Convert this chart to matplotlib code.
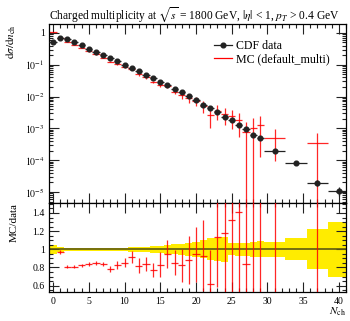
import numpy as np
import matplotlib
matplotlib.use('Agg')
import matplotlib.pyplot as plt
from matplotlib.lines import Line2D
from matplotlib.ticker import MultipleLocator, LogLocator, NullFormatter, FixedLocator

plt.rcParams['font.family'] = ['Liberation Serif', 'DejaVu Serif']
plt.rcParams['mathtext.fontset'] = 'stix'

# bins (centres and edges)
n_ch = [0, 1, 2, 3, 4, 5, 6, 7, 8, 9, 10, 11, 12, 13, 14, 15, 16, 17, 18, 19,
        20, 21, 22, 23, 24, 25, 26, 27, 28, 29, 31, 34, 37, 40]
bin_lo = [-0.5, 0.5, 1.5, 2.5, 3.5, 4.5, 5.5, 6.5, 7.5, 8.5, 9.5, 10.5, 11.5, 12.5,
          13.5, 14.5, 15.5, 16.5, 17.5, 18.5, 19.5, 20.5, 21.5, 22.5, 23.5, 24.5,
          25.5, 26.5, 27.5, 28.5, 29.5, 32.5, 35.5, 38.5]
bin_hi = [0.5, 1.5, 2.5, 3.5, 4.5, 5.5, 6.5, 7.5, 8.5, 9.5, 10.5, 11.5, 12.5, 13.5,
          14.5, 15.5, 16.5, 17.5, 18.5, 19.5, 20.5, 21.5, 22.5, 23.5, 24.5, 25.5,
          26.5, 27.5, 28.5, 29.5, 32.5, 35.5, 38.5, 41.5]

# CDF data
cdf_y = [0.52, 0.70, 0.63, 0.52, 0.41, 0.31, 0.25, 0.20, 0.16, 0.127, 0.099, 0.078,
         0.062, 0.048, 0.037, 0.0285, 0.0224, 0.0168, 0.0135, 0.0102, 0.0078,
         0.0055, 0.00427, 0.0032, 0.00233, 0.0018, 0.00128, 0.00094, 0.00062,
         0.00048, 0.0002, 8.2e-5, 1.94e-5, 1.1e-5]
cdf_rel = [0.05, 0.03, 0.02, 0.02, 0.02, 0.02, 0.02, 0.02, 0.02, 0.02, 0.02, 0.025,
           0.03, 0.03, 0.035, 0.04, 0.05, 0.055, 0.06, 0.07, 0.08, 0.10, 0.12, 0.13,
           0.14, 0.065, 0.07, 0.075, 0.085, 0.09, 0.08, 0.12, 0.22, 0.30]

# MC (default_multi), nan = empty bin
mc_y = [1.07, 0.68, 0.51, 0.42, 0.338, 0.26, 0.212, 0.168, 0.125, 0.105, 0.0845,
        0.0712, 0.0508, 0.0403, 0.0285, 0.0237, 0.0213, 0.0143, 0.0111, 0.00898,
        0.00737, 0.00512, 0.00265, 0.00362, 0.00275, 0.00238, 0.0018, 0.00079,
        0.0010, 0.00128, 0.00051, np.nan, 0.00034, np.nan]
mc_rel = [0.02, 0.02, 0.02, 0.02, 0.02, 0.025, 0.03, 0.03, 0.04, 0.05, 0.06, 0.07,
          0.10, 0.09, 0.10, 0.17, 0.16, 0.16, 0.22, 0.30, 0.32, 0.42, 0.60, 0.48,
          0.55, 0.60, 0.70, 1.05, 1.05, 0.90, 0.82, np.nan, 1.05, np.nan]

x = np.array(n_ch, float)
lo = np.array(bin_lo)
hi = np.array(bin_hi)
xerr = [x - lo, hi - x]
d = np.array(cdf_y)
de = d * np.array(cdf_rel)
m = np.array(mc_y)
me = m * np.array(mc_rel)
ok = ~np.isnan(m)

fig = plt.figure(figsize=(3.5, 3.21), dpi=100)
ax = fig.add_axes([0.1414, 0.3676, 0.8472, 0.5576])
rax = fig.add_axes([0.1414, 0.0903, 0.8472, 0.2773], sharex=ax)

# main panel
me_lo = np.minimum(me, m * 0.9999)
ax.errorbar(x[ok], m[ok], xerr=[xerr[0][ok], xerr[1][ok]],
            yerr=[me_lo[ok], me[ok]], fmt='none', ecolor='red', elinewidth=0.9,
            alpha=0.85, capsize=0, zorder=2)
ax.errorbar(x, d, xerr=xerr, yerr=de, fmt='o', color='#222222', ms=3.4,
            elinewidth=0.9, capsize=0, zorder=3)
ax.set_yscale('log')
ax.set_ylim(4.5e-6, 1.9)
ax.set_xlim(-0.5, 41)
ax.yaxis.set_major_locator(FixedLocator([1e-5, 1e-4, 1e-3, 1e-2, 1e-1, 1]))
ax.yaxis.set_minor_locator(LogLocator(base=10, subs=np.arange(2, 10), numticks=20))
ax.yaxis.set_minor_formatter(NullFormatter())
ax.set_yticklabels(['$10^{-5}$', '$10^{-4}$', '$10^{-3}$', '$10^{-2}$', '$10^{-1}$', '1'])
ax.tick_params(labelbottom=False)
ax.set_ylabel(r'$\mathrm{d}\sigma/\mathrm{d}n_\mathrm{ch}$', loc='top', fontsize=8)
ax.set_title(r'Charged multiplicity at $\sqrt{s}$ = 1800 GeV, $|\eta|$ < 1, $p_T$ > 0.4 GeV',
             loc='left', fontsize=8.3, pad=4)

handles = [Line2D([], [], color='#222222', marker='o', ms=3.4, lw=0.9),
           Line2D([], [], color='red', lw=0.9)]
ax.legend(handles, ['CDF data', 'MC (default_multi)'], loc='upper right',
          bbox_to_anchor=(0.975, 0.955), frameon=False, fontsize=8.6, handlelength=1.5,
          handletextpad=0.4, labelspacing=0.1, borderpad=0.2)

# ratio panel
rax.bar(lo, 2 * de / d, width=hi - lo, bottom=1 - de / d, align='edge',
        color='#ffec00', lw=0, zorder=1)
rax.axhline(1, color='#5e5a10', lw=1.2, zorder=2)
ratio = m / d
rerr = me / d
rax.errorbar(x[ok], ratio[ok], xerr=[xerr[0][ok], xerr[1][ok]], yerr=rerr[ok],
             fmt='none', ecolor='red', elinewidth=0.9, alpha=0.85, capsize=0, zorder=3)
rax.set_ylim(0.53, 1.51)
rax.yaxis.set_major_locator(MultipleLocator(0.2))
rax.yaxis.set_minor_locator(MultipleLocator(0.05))
rax.set_yticks([0.6, 0.8, 1.0, 1.2, 1.4])
rax.set_yticklabels(['0.6', '0.8', '1', '1.2', '1.4'])
rax.xaxis.set_major_locator(MultipleLocator(5))
rax.xaxis.set_minor_locator(MultipleLocator(1))
rax.set_ylabel('MC/data', loc='top', fontsize=8)
rax.set_xlabel(r'$N_\mathrm{ch}$', loc='right', fontsize=8, labelpad=0)

for a in (ax, rax):
    a.tick_params(which='both', direction='in', top=True, right=True, labelsize=7,
                  width=0.8, color='#222222')
    a.tick_params(which='major', length=7)
    a.tick_params(which='minor', length=3)
    for s in a.spines.values():
        s.set_linewidth(0.9)
    a.yaxis.set_label_coords(-0.105, 1.0)

fig.savefig('out.png', dpi=100)
